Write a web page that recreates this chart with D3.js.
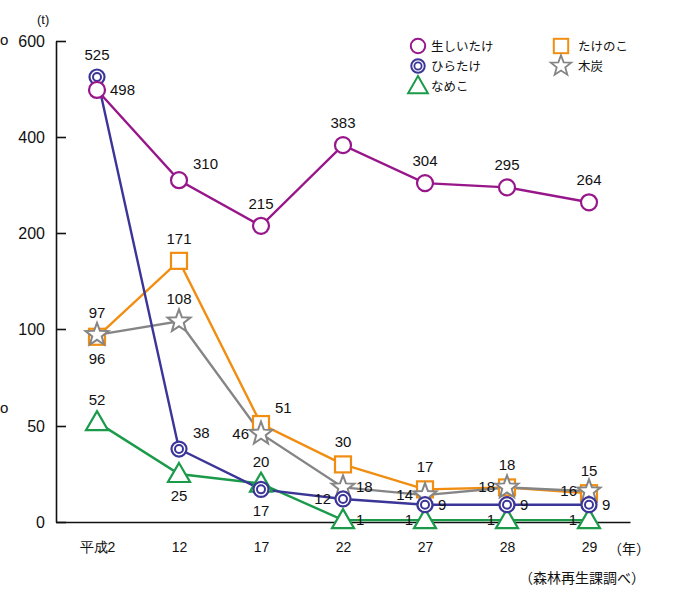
<!DOCTYPE html>
<html>
<head>
<meta charset="utf-8">
<script src="https://cdn.jsdelivr.net/npm/d3@7"></script>
<style>
  body { margin: 0; background: #fff; }
  text { font-family: "Liberation Sans", Arial, sans-serif; }
  .jp { font-family: "Noto Sans CJK JP", sans-serif; }
</style>
</head>
<body>
<div id="chart"></div>
<script>
// Years (Heisei) and values
var years = ["平成2", "12", "17", "22", "27", "28", "29"];
var yTicks = [0, 50, 100, 200, 400, 600];

var shiitake = [498, 310, 215, 383, 304, 295, 264];
var hiratake = [525, 38, 17, 12, 9, 9, 9];
var nameko = [52, 25, 20, 1, 1, 1, 1];
var takenoko = [96, 171, 51, 30, 17, 18, 15];
var mokutan = [97, 108, 46, 18, 14, 18, 16];

var seriesNames = ["生しいたけ", "ひらたけ", "なめこ", "たけのこ", "木炭"];

// where each value label sits relative to its marker
var labelSides = {
    "生しいたけ": ["r", "tr", "t", "t", "t", "t", "t"],
    "ひらたけ": ["t", "tr", "b", "l", "r", "r", "r"],
    "なめこ": ["t", "b", "t", "r", "l", "l", "l"],
    "たけのこ": ["b", "t", "tr", "t", "t", "t", "t"],
    "木炭": ["t", "t", "l", "r", "l", "l", "l"]
};

var series = [
    { name: "なめこ", values: nameko, color: "#1b9a4a", marker: "triangle" },
    { name: "たけのこ", values: takenoko, color: "#f18e12", marker: "square" },
    { name: "木炭", values: mokutan, color: "#858585", marker: "star" },
    { name: "ひらたけ", values: hiratake, color: "#3a3597", marker: "double" },
    { name: "生しいたけ", values: shiitake, color: "#97178b", marker: "circle" }
];

var W = 677, H = 589;
var svg = d3.select("#chart").append("svg")
    .attr("width", W)
    .attr("height", H);

// Piecewise y scale (broken axis)
var y = d3.scaleLinear()
    .domain(yTicks)
    .range([522, 426, 329, 233, 137, 41]);

var x = d3.scalePoint()
    .domain(years)
    .range([56, 630])
    .padding(0.5);

// Y axis
var yAxis = svg.append("g")
    .attr("transform", "translate(56,0)")
    .call(d3.axisLeft(y).tickValues(yTicks).tickSize(-10).tickSizeOuter(0).tickPadding(11));
yAxis.select(".domain").attr("stroke", "#111").attr("stroke-width", 1.6);
yAxis.selectAll(".tick line").attr("stroke", "#111").attr("stroke-width", 1.6);
yAxis.selectAll(".tick text").attr("font-size", 16).attr("fill", "#111")
    .attr("font-family", "Liberation Sans, Arial, sans-serif");

// X axis
var xAxis = svg.append("g")
    .attr("transform", "translate(0,522)")
    .call(d3.axisBottom(x).tickSize(0).tickSizeOuter(0).tickPadding(20));
xAxis.select(".domain").attr("stroke", "#111").attr("stroke-width", 1.6);
xAxis.selectAll(".tick text").attr("font-size", 14).attr("fill", "#111")
    .attr("font-family", "Liberation Sans, 'Noto Sans CJK JP', sans-serif");

svg.append("text").attr("x", 37).attr("y", 24).attr("font-size", 13).attr("fill", "#111").text("(t)");
svg.append("text").attr("class", "jp").attr("x", 608).attr("y", 554).attr("font-size", 14).attr("fill", "#111").text("（年）");
svg.append("text").attr("class", "jp").attr("x", 645).attr("y", 583).attr("text-anchor", "end")
    .attr("font-size", 14).attr("fill", "#111").text("（森林再生課調べ）");
// glyphs at the left edge
svg.append("text").attr("x", 0).attr("y", 45).attr("font-size", 15).attr("fill", "#111").text("o");
svg.append("text").attr("x", 0).attr("y", 413).attr("font-size", 15).attr("fill", "#111").text("o");

function starPath(ro, ri) {
    var pts = [];
    for (var i = 0; i < 10; i++) {
        var r = i % 2 === 0 ? ro : ri;
        var a = -Math.PI / 2 + i * Math.PI / 5;
        pts.push([r * Math.cos(a), r * Math.sin(a)]);
    }
    return "M" + pts.join("L") + "Z";
}

function drawMarker(g, type, color) {
    if (type === "circle") {
        g.append("circle").attr("r", 8).attr("fill", "#fff").attr("stroke", color).attr("stroke-width", 2.2);
    } else if (type === "double") {
        g.append("circle").attr("r", 7.5).attr("fill", "#fff").attr("stroke", color).attr("stroke-width", 2.2);
        g.append("circle").attr("r", 4).attr("fill", "#fff").attr("stroke", color).attr("stroke-width", 2);
    } else if (type === "triangle") {
        g.append("path").attr("d", "M0,-11L11,8L-11,8Z").attr("fill", "#fff").attr("stroke", color).attr("stroke-width", 2.2);
    } else if (type === "square") {
        g.append("rect").attr("x", -8).attr("y", -8).attr("width", 16).attr("height", 16)
            .attr("fill", "#fff").attr("stroke", color).attr("stroke-width", 2.2);
    } else if (type === "star") {
        g.append("path").attr("d", starPath(12, 5)).attr("fill", "#fff").attr("stroke", color).attr("stroke-width", 2);
    }
}

var offsets = {
    t: [0, -17, "middle"],
    b: [0, 27, "middle"],
    r: [13, 5, "start"],
    l: [-12, 5, "end"],
    tr: [14, -11, "start"]
};

var line = d3.line()
    .x(function(d, i) { return x(years[i]); })
    .y(function(d) { return y(d); });

// lines first, then markers
series.forEach(function(s) {
    svg.append("path")
        .datum(s.values)
        .attr("d", line)
        .attr("fill", "none")
        .attr("stroke", s.color)
        .attr("stroke-width", 2.4);
});

series.forEach(function(s) {
    s.values.forEach(function(v, i) {
        var g = svg.append("g").attr("transform", "translate(" + x(years[i]) + "," + y(v) + ")");
        drawMarker(g, s.marker, s.color);
    });
});

series.forEach(function(s) {
    s.values.forEach(function(v, i) {
        var o = offsets[labelSides[s.name][i]];
        svg.append("text")
            .attr("x", x(years[i]) + o[0])
            .attr("y", y(v) + o[1])
            .attr("text-anchor", o[2])
            .attr("font-size", 15)
            .attr("fill", "#111")
            .text(v);
    });
});

// Legend
var legend = [
    { name: "生しいたけ", col: 0, row: 0 },
    { name: "ひらたけ", col: 0, row: 1 },
    { name: "なめこ", col: 0, row: 2 },
    { name: "たけのこ", col: 1, row: 0 },
    { name: "木炭", col: 1, row: 1 }
];
legend.forEach(function(l) {
    var s = series.filter(function(d) { return d.name === l.name; })[0];
    var lx = l.col === 0 ? 418 : 561, ly = 46 + l.row * 20;
    var g = svg.append("g").attr("transform", "translate(" + lx + "," + ly + ") scale(0.9)");
    drawMarker(g, s.marker, s.color);
    svg.append("text").attr("class", "jp")
        .attr("x", lx + (l.col === 0 ? 13 : 17)).attr("y", ly + 4.5)
        .attr("font-size", 12.5).attr("fill", "#111").text(l.name);
});
</script>
</body>
</html>
